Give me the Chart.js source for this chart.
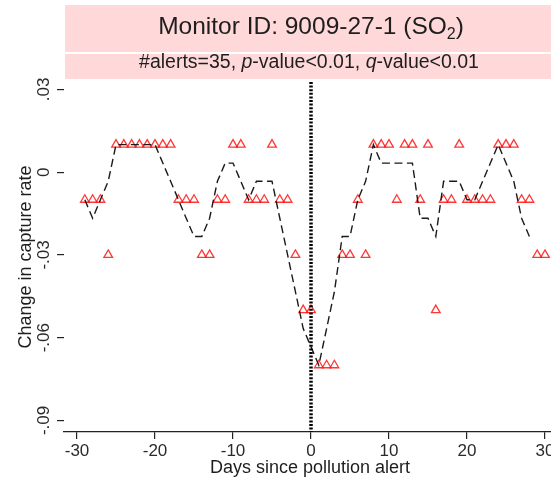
<!DOCTYPE html>
<html>
<head>
<meta charset="utf-8">
<script src="https://cdn.jsdelivr.net/npm/chart.js@4.4.0/dist/chart.umd.min.js"></script>
<style>
  body { margin: 0; background: #fff; }
  canvas { display: block; }
</style>
</head>
<body>
<canvas id="alert-chart" width="551" height="480"></canvas>
<script>
// days relative to the alert, and the daily change in capture rate
var days = [-29, -28, -27, -26, -25, -24, -23, -22, -21, -20, -19, -18, -17, -16, -15,
  -14, -13, -12, -11, -10, -9, -8, -7, -6, -5, -4, -3, -2, -1, 0,
  1, 2, 3, 4, 5, 6, 7, 8, 9, 10, 11, 12, 13, 14, 15,
  16, 17, 18, 19, 20, 21, 22, 23, 24, 25, 26, 27, 28, 29, 30];
var captureChange = [-0.01, -0.01, -0.01, -0.03, 0.01, 0.01, 0.01, 0.01, 0.01, 0.01, 0.01, 0.01, -0.01, -0.01, -0.01,
  -0.03, -0.03, -0.01, -0.01, 0.01, 0.01, -0.01, -0.01, -0.01, 0.01, -0.01, -0.01, -0.03, -0.05, -0.05,
  -0.07, -0.07, -0.07, -0.03, -0.03, -0.01, -0.03, 0.01, 0.01, 0.01, -0.01, 0.01, 0.01, -0.01, 0.01,
  -0.05, -0.01, -0.01, 0.01, -0.01, -0.01, -0.01, -0.01, 0.01, 0.01, 0.01, -0.01, -0.01, -0.03, -0.03];

// smoothed trend, days -29 to 28
var trendDays = [-29, -28, -27, -26, -25, -24, -23, -22, -21, -20, -19, -18, -17, -16, -15,
  -14, -13, -12, -11, -10, -9, -8, -7, -6, -5, -4, -3, -2, -1, 0,
  1, 2, 3, 4, 5, 6, 7, 8, 9, 10, 11, 12, 13, 14, 15,
  16, 17, 18, 19, 20, 21, 22, 23, 24, 25, 26, 27, 28];
var trendChange = [-0.01, -0.0167, -0.01, -0.0033, 0.01, 0.01, 0.01, 0.01, 0.01, 0.01, 0.0033, -0.0033, -0.01, -0.0167, -0.0233,
  -0.0233, -0.0167, -0.0033, 0.0033, 0.0033, -0.0033, -0.01, -0.0033, -0.0033, -0.0033, -0.0167, -0.03, -0.0433, -0.0567, -0.0633,
  -0.07, -0.0567, -0.0433, -0.0233, -0.0233, -0.01, -0.0033, 0.01, 0.0033, 0.0033, 0.0033, 0.0033, 0.0033, -0.0167, -0.0167,
  -0.0233, -0.0033, -0.0033, -0.0033, -0.01, -0.01, -0.0033, 0.0033, 0.01, 0.0033, -0.0033, -0.0167, -0.0233];

var alertDay = 0;
var xTicks = [-30, -20, -10, 0, 10, 20, 30];
var yTicks = [0.03, 0, -0.03, -0.06, -0.09];
var yTickLabels = ['.03', '0', '-.03', '-.06', '-.09'];
var xRange = [-31.67, 30.77];
var yRange = [-0.0942, 0.0327];

var FONT = '"Liberation Sans", Arial, sans-serif';
var INK = '#1e1e1e';

function toPoints(xs, ys) {
  return xs.map(function(x, i) { return { x: x, y: ys[i] }; });
}

// draws a row of differently styled pieces, centred on cx
function drawRuns(ctx, runs, cx, y) {
  var total = 0;
  runs.forEach(function(r) {
    ctx.font = r.font;
    r.w = ctx.measureText(r.text).width;
    total += r.w;
  });
  var x = cx - total / 2;
  ctx.textAlign = 'left';
  ctx.textBaseline = 'alphabetic';
  runs.forEach(function(r) {
    ctx.font = r.font;
    ctx.fillText(r.text, x, y + (r.dy || 0));
    x += r.w;
  });
}

// keep the plot box fixed, no extra room for edge labels
function noEdgePadding(s) {
  s.paddingLeft = 0;
  s.paddingRight = 0;
  s.paddingTop = 0;
  s.paddingBottom = 0;
}

var panelText = {
  id: 'panelText',
  beforeDraw: function(chart) {
    var ctx = chart.ctx;
    ctx.save();
    ctx.fillStyle = '#ffd9d9';
    ctx.fillRect(65, 5, 486, 47);
    ctx.fillRect(65, 54, 486, 25);
    ctx.restore();
  },
  afterDraw: function(chart) {
    var ctx = chart.ctx;
    var ys = chart.scales.y;
    ctx.save();
    ctx.fillStyle = INK;

    drawRuns(ctx, [
      { text: 'Monitor ID: 9009-27-1 (SO', font: '24.5px ' + FONT },
      { text: '2', font: '16px ' + FONT, dy: 5 },
      { text: ')', font: '24.5px ' + FONT }
    ], 311, 34);

    drawRuns(ctx, [
      { text: '#alerts=35, ', font: '19.5px ' + FONT },
      { text: 'p', font: 'italic 19.5px ' + FONT },
      { text: '-value<0.01, ', font: '19.5px ' + FONT },
      { text: 'q', font: 'italic 19.5px ' + FONT },
      { text: '-value<0.01', font: '19.5px ' + FONT }
    ], 309, 68);

    // rotated y tick labels
    ctx.fillStyle = '#2a2a2a';
    ctx.font = '17px ' + FONT;
    ctx.textAlign = 'center';
    ctx.textBaseline = 'alphabetic';
    yTicks.forEach(function(v, i) {
      ctx.save();
      ctx.translate(49, ys.getPixelForValue(v));
      ctx.rotate(-Math.PI / 2);
      ctx.fillText(yTickLabels[i], 0, 0);
      ctx.restore();
    });

    // axis titles
    ctx.fillStyle = INK;
    ctx.font = '18px ' + FONT;
    ctx.save();
    ctx.translate(31, (chart.chartArea.top + chart.chartArea.bottom) / 2);
    ctx.rotate(-Math.PI / 2);
    ctx.fillText('Change in capture rate', 0, 0);
    ctx.restore();
    ctx.fillText('Days since pollution alert', 310, 473);
    ctx.restore();
  }
};

new Chart(document.getElementById('alert-chart'), {
  type: 'scatter',
  data: {
    datasets: [
      {
        label: 'Alert day',
        type: 'line',
        data: [{ x: alertDay, y: yRange[1] }, { x: alertDay, y: yRange[0] }],
        borderColor: '#000',
        borderWidth: 3.5,
        borderDash: [2, 1.6],
        pointRadius: 0,
        order: 0
      },
      {
        label: 'Trend',
        type: 'line',
        data: toPoints(trendDays, trendChange),
        borderColor: '#1a1a1a',
        borderWidth: 1.4,
        borderDash: [8, 4.5],
        pointRadius: 0,
        tension: 0,
        order: 1
      },
      {
        label: 'Change in capture rate',
        data: toPoints(days, captureChange),
        pointStyle: 'triangle',
        pointRadius: 5,
        pointBorderWidth: 1.3,
        borderColor: 'rgba(255, 20, 20, 0.85)',
        backgroundColor: 'rgba(0, 0, 0, 0)',
        order: 2
      }
    ]
  },
  options: {
    responsive: false,
    animation: false,
    layout: { padding: { top: 82, left: 0, right: 0, bottom: 0 }, autoPadding: false },
    plugins: {
      legend: { display: false },
      tooltip: { enabled: false }
    },
    scales: {
      x: {
        type: 'linear',
        min: xRange[0],
        max: xRange[1],
        afterBuildTicks: function(s) { s.ticks = xTicks.map(function(v) { return { value: v }; }); },
        afterFit: function(s) { s.height = 48; noEdgePadding(s); },
        grid: { drawOnChartArea: false, drawTicks: true, tickLength: 7, color: '#222', lineWidth: 1.2 },
        border: { display: true, color: '#222', width: 1.3 },
        ticks: {
          padding: 2,
          color: '#2a2a2a',
          font: { family: FONT, size: 17 },
          maxRotation: 0,
          autoSkip: false
        }
      },
      y: {
        type: 'linear',
        min: yRange[0],
        max: yRange[1],
        afterBuildTicks: function(s) { s.ticks = yTicks.map(function(v) { return { value: v }; }); },
        afterFit: function(s) { s.width = 64; noEdgePadding(s); },
        grid: { drawOnChartArea: false, drawTicks: true, tickLength: 7, color: '#222', lineWidth: 1.2 },
        border: { display: false },
        ticks: { display: false }
      }
    }
  },
  plugins: [panelText]
});
</script>
</body>
</html>
